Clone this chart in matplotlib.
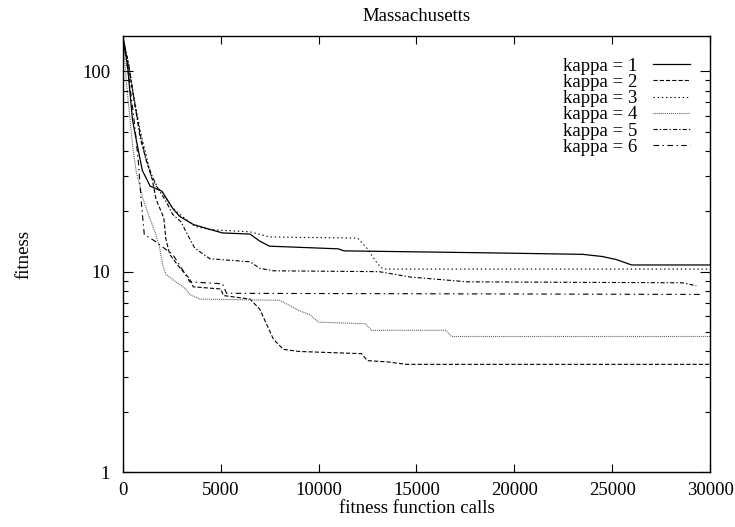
import matplotlib
matplotlib.use("Agg")
import matplotlib.pyplot as plt
from matplotlib.ticker import NullFormatter

plt.rcParams['font.family'] = ['Liberation Serif', 'DejaVu Serif']
plt.rcParams['lines.scale_dashes'] = False

# fitness function calls / fitness values
k1_x = [0, 250, 500, 800, 1000, 1400, 2000, 2550, 2900, 3600, 4400, 5100, 6500, 7000, 7500,
        11000, 11300, 19000, 23500, 24500, 25200, 26000, 30000]
k1_y = [150, 105, 57, 40, 32, 26.7, 25.2, 20.7, 18.9, 17.2, 16.3, 15.6, 15.4, 14.2, 13.4,
        13.0, 12.7, 12.4, 12.2, 11.9, 11.5, 10.8, 10.8]

k2_x = [0, 300, 600, 900, 1200, 1500, 1700, 2100, 2200, 2400, 2800, 3170, 3420, 3600, 5000,
        5150, 6500, 7000, 7300, 7700, 8200, 9000, 12200, 12500, 13500, 14500, 30000]
k2_y = [150, 105, 70, 48, 36, 29, 23, 18.5, 14.6, 12.2, 10.8, 9.8, 9.2, 8.4, 8.2,
        7.6, 7.3, 6.5, 5.6, 4.6, 4.1, 4.0, 3.9, 3.6, 3.55, 3.45, 3.45]

k3_x = [0, 300, 600, 900, 1200, 1400, 1700, 2000, 2500, 3000, 3700, 4500, 6500, 7500,
        12000, 12500, 13000, 13300, 30000]
k3_y = [150, 108, 72, 50, 38, 31, 26.7, 25, 21, 19, 16.8, 16.2, 15.8, 14.9,
        14.7, 13, 11, 10.3, 10.3]

k4_x = [0, 200, 510, 700, 870, 1020, 1380, 1690, 1890, 2040, 2200, 2710, 3220, 3420, 3930,
        8000, 8500, 9000, 9550, 10000, 12400, 12700, 16500, 16800, 30000]
k4_y = [150, 85, 42, 31, 27, 23.3, 18.5, 15.3, 13.1, 10.8, 9.7, 8.9, 8.2, 7.7, 7.3,
        7.2, 6.8, 6.4, 6.1, 5.6, 5.5, 5.1, 5.1, 4.75, 4.75]

k5_x = [0, 300, 600, 900, 1200, 1500, 1800, 2200, 2550, 2960, 3420, 3680, 4450, 6500, 7000,
        7700, 13100, 14700, 17600, 28600, 29300]
k5_y = [150, 108, 70, 46, 36, 30, 26, 22.5, 19.3, 17.8, 14.6, 13.1, 11.6, 11.2, 10.4,
        10.1, 10.0, 9.4, 8.9, 8.8, 8.5]

k6_x = [0, 300, 600, 800, 950, 1100, 1300, 1700, 2200, 2550, 2900, 3170, 3420, 5100, 5300, 29600]
k6_y = [150, 95, 55, 35, 22, 15.3, 14.9, 14.1, 12.9, 12.2, 10.8, 9.8, 8.9, 8.7, 7.8, 7.7]

labels = ['kappa = 1', 'kappa = 2', 'kappa = 3', 'kappa = 4', 'kappa = 5', 'kappa = 6']

fig = plt.figure(figsize=(7.35, 5.27), dpi=100)
ax = fig.add_axes([0.167, 0.104, 0.799, 0.828])

ax.plot(k1_x, k1_y, color='black', lw=0.9, label=labels[0])
ax.plot(k2_x, k2_y, color='black', lw=0.8, dashes=(3, 1.5), label=labels[1])
ax.plot(k3_x, k3_y, color='black', lw=0.8, dashes=(1, 2), label=labels[2])
ax.plot(k4_x, k4_y, color='0.35', lw=0.8, dashes=(0.7, 0.7), label=labels[3])
ax.plot(k5_x, k5_y, color='black', lw=0.8, dashes=(3, 1.5, 1, 1.5), label=labels[4])
ax.plot(k6_x, k6_y, color='black', lw=0.8, dashes=(4, 2.5, 1, 2.5), label=labels[5])

ax.set_yscale('log')
ax.set_xlim(0, 30000)
ax.set_ylim(1, 150)
ax.set_xticks([0, 5000, 10000, 15000, 20000, 25000, 30000])
ax.set_yticks([1, 10, 100])
ax.set_yticklabels(['1', '10', '100'])
ax.yaxis.set_minor_formatter(NullFormatter())

ax.tick_params(which='both', direction='in', top=True, right=True, labelsize=13.5, width=0.8)
ax.tick_params(axis='x', which='major', length=6, pad=7)
ax.tick_params(axis='y', which='major', length=7, pad=9)
ax.tick_params(axis='y', which='minor', length=3.5)
for s in ax.spines.values():
    s.set_linewidth(1.0)

ax.set_title('Massachusetts', fontsize=13.5, pad=11)
ax.set_xlabel('fitness function calls', fontsize=13.5, labelpad=1)
ax.set_ylabel('fitness', fontsize=13.5, labelpad=36)

# legend text first, line sample on the right, like gnuplot
ax.legend(loc='upper right', bbox_to_anchor=(0.966, 0.95), frameon=False, fontsize=13.5,
          markerfirst=False, handlelength=2.0, handletextpad=0.8, labelspacing=-0.05,
          borderaxespad=0, borderpad=0)

fig.savefig('out.png', dpi=100)
